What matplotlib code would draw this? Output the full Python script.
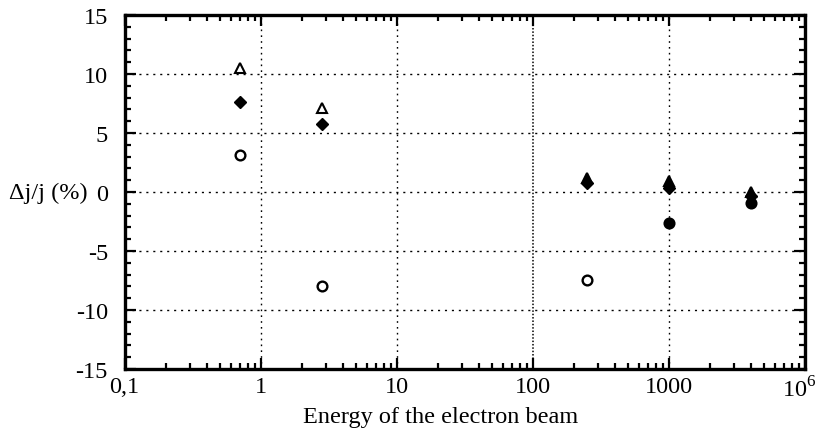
import matplotlib.pyplot as plt
import matplotlib.transforms as mtransforms
from matplotlib.ticker import LogLocator, MultipleLocator, FixedLocator, FixedFormatter

plt.rcParams['font.family'] = ['Liberation Serif', 'DejaVu Serif']
plt.rcParams['axes.unicode_minus'] = False
plt.rcParams['mathtext.fontset'] = 'custom'
plt.rcParams['mathtext.rm'] = 'Liberation Serif'

# beam energies and the three sets of deviations
energy = [0.7, 2.8, 250, 1000, 4000]
tri_y = [10.5, 7.1, 1.2, 0.9, 0.0]
tri_filled = [False, False, True, True, True]
dia_y = [7.6, 5.8, 0.8, 0.3, -0.3]
circ_y = [3.1, -8.0, -7.5, -2.6, -0.9]
circ_filled = [False, False, False, True, True]

xticks = [0.1, 1, 10, 100, 1000, 10000]
xticklabels = ['0,1', '1', '10', '100', '1000', '10$^{6}$']
yticks = [-15, -10, -5, 0, 5, 10, 15]

fig = plt.figure(figsize=(8.2, 4.31), dpi=100)
ax = fig.add_axes([0.152, 0.1415, 0.83, 0.8215])
ax.set_xscale('log')
ax.set_xlim(0.1, 10000)
ax.set_ylim(-15, 15)

# grid lines
for y in [-10, -5, 0, 5, 10]:
    ax.axhline(y, color='black', lw=1.0, ls=(0, (1.5, 3.5)), zorder=1)
for x in [1, 10, 1000]:
    ax.axvline(x, color='black', lw=1.0, ls=(0, (1.2, 3)), zorder=1)
ax.axvline(100, color='black', lw=1.1, ls=(0, (1, 1.2)), zorder=1)

# markers
for x, y, f in zip(energy, tri_y, tri_filled):
    ax.plot(x, y, marker='^', ms=7.5, color='black', mew=1.5,
            mfc='black' if f else 'white', ls='none', zorder=3)
ax.plot(energy, dia_y, marker='D', ms=6, color='black', ls='none', zorder=3)
for x, y, f in zip(energy, circ_y, circ_filled):
    ax.plot(x, y, marker='o', ms=7, color='black', mew=1.7,
            mfc='black' if f else 'white', ls='none', zorder=3)

ax.xaxis.set_major_locator(FixedLocator(xticks))
ax.xaxis.set_major_formatter(FixedFormatter(xticklabels))
ax.xaxis.set_minor_locator(LogLocator(base=10, subs=range(2, 10)))
ax.set_yticks(yticks)
ax.yaxis.set_minor_locator(MultipleLocator(1))

ax.tick_params(which='both', direction='in', top=True, right=True,
               labelsize=17.5, width=1.6)
ax.tick_params(axis='x', pad=5)
ax.tick_params(axis='y', pad=12)
ax.tick_params(which='major', length=8)
ax.tick_params(which='minor', length=4.5)
for s in ax.spines.values():
    s.set_linewidth(2.4)

# nudge the last x label so it stays inside the figure
last = ax.get_xticklabels()[-1]
last.set_transform(last.get_transform() +
                   mtransforms.ScaledTranslation(-6 / 100, 0, fig.dpi_scale_trans))

ax.set_xlabel('Energy of the electron beam', fontsize=17.5)
ax.xaxis.set_label_coords(0.465, -0.105)
ax.xaxis.label.set_va('top')
ax.text(-0.054, 0.5, '\u0394j/j (%)', transform=ax.transAxes, fontsize=17.5,
        ha='right', va='center')

fig.savefig('out.png', dpi=100)
